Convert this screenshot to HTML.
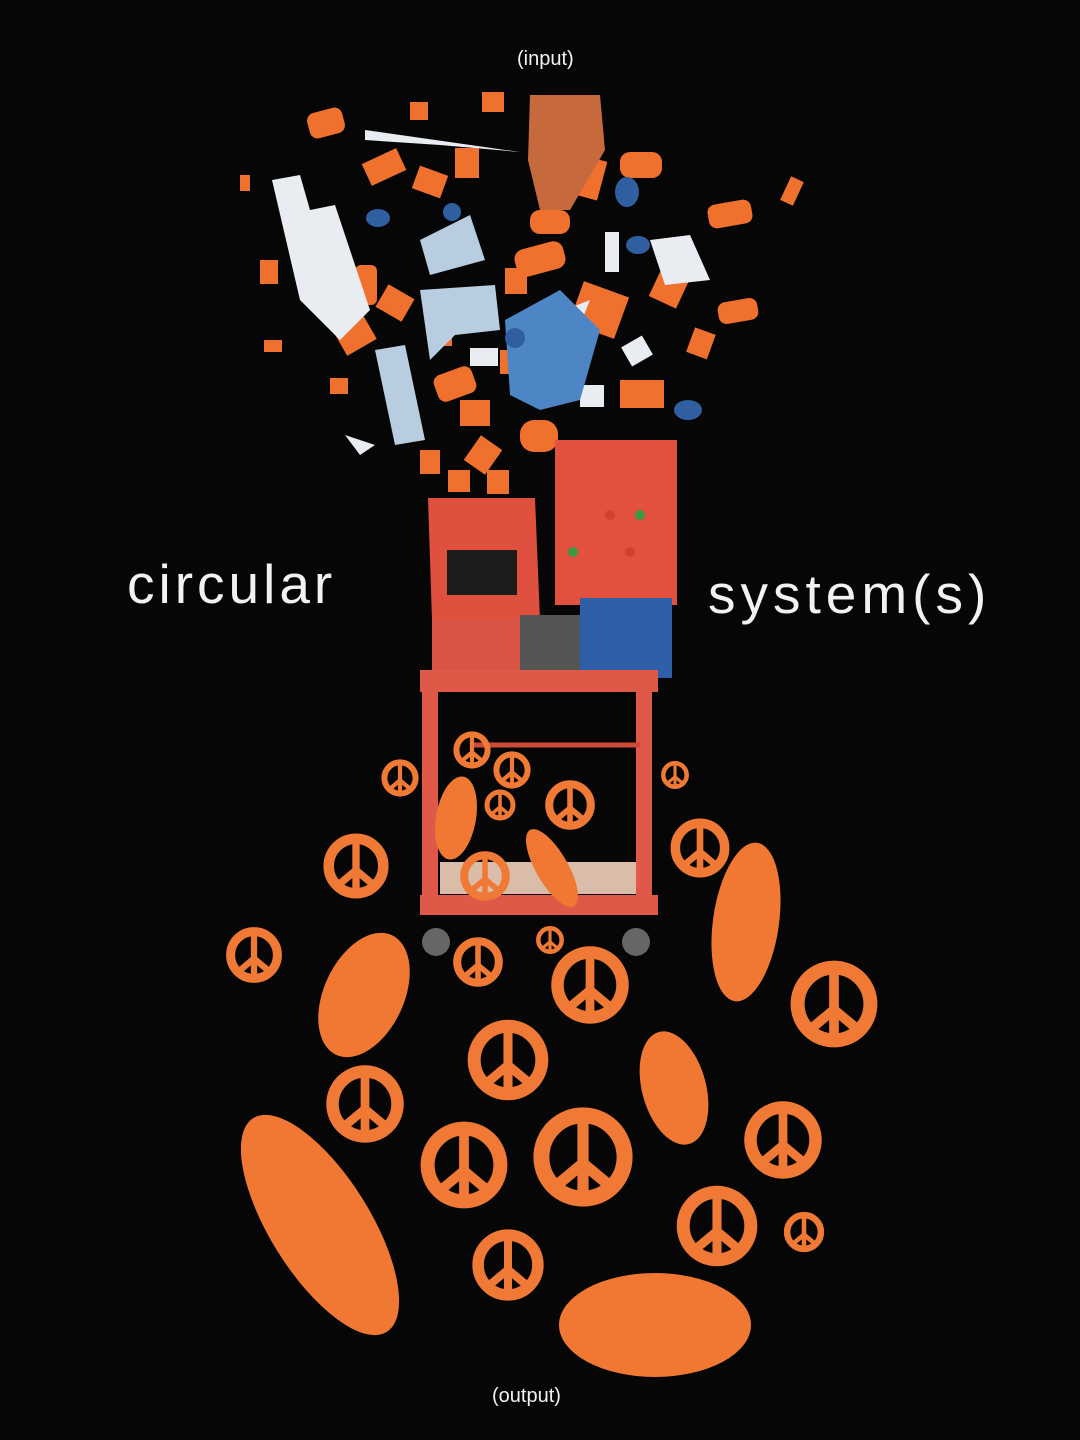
<!DOCTYPE html>
<html><head><meta charset="utf-8"><style>
html,body{margin:0;padding:0;background:#060606;}
body{width:1080px;height:1440px;overflow:hidden;position:relative;font-family:"Liberation Sans",sans-serif;color:#f2f2f2;}
.t{position:absolute;white-space:nowrap;}
svg{position:absolute;left:0;top:0;}
</style></head><body>
<svg width="1080" height="1440" viewBox="0 0 1080 1440">
<defs>
<g id="peace"><circle r="26" fill="none" stroke="#f07a35" stroke-width="10"/><line x1="0" y1="-26" x2="0" y2="26" stroke="#f07a35" stroke-width="7"/><line x1="0" y1="4" x2="-18" y2="19" stroke="#f07a35" stroke-width="7"/><line x1="0" y1="4" x2="18" y2="19" stroke="#f07a35" stroke-width="7"/></g>
</defs>
<g fill="#f0702e">
<rect x="308" y="110" width="36" height="26" rx="8" transform="rotate(-15 326 123)"/>
<rect x="365" y="155" width="38" height="24" transform="rotate(-25 384 167)"/>
<rect x="415" y="170" width="30" height="24" transform="rotate(20 430 182)"/>
<rect x="455" y="148" width="24" height="30"/>
<rect x="620" y="152" width="42" height="26" rx="10"/>
<rect x="708" y="202" width="44" height="24" rx="8" transform="rotate(-10 730 214)"/>
<rect x="718" y="300" width="40" height="22" rx="8" transform="rotate(-10 738 311)"/>
<rect x="655" y="268" width="30" height="36" transform="rotate(25 670 286)"/>
<rect x="575" y="288" width="48" height="44" transform="rotate(20 599 310)"/>
<rect x="530" y="210" width="40" height="24" rx="10"/>
<rect x="515" y="245" width="50" height="28" rx="10" transform="rotate(-15 540 259)"/>
<rect x="555" y="155" width="48" height="40" transform="rotate(15 579 175)"/>
<rect x="335" y="310" width="34" height="40" transform="rotate(-30 352 330)"/>
<rect x="380" y="290" width="30" height="26" transform="rotate(30 395 303)"/>
<rect x="435" y="370" width="40" height="28" rx="8" transform="rotate(-20 455 384)"/>
<rect x="460" y="400" width="30" height="26"/>
<rect x="520" y="420" width="38" height="32" rx="14"/>
<rect x="620" y="380" width="44" height="28"/>
<rect x="690" y="330" width="22" height="26" transform="rotate(20 700 343)"/>
<rect x="470" y="440" width="26" height="30" transform="rotate(35 483 455)"/>
<rect x="420" y="450" width="20" height="24"/>
<rect x="448" y="470" width="22" height="22"/>
<rect x="487" y="470" width="22" height="24"/>
<rect x="330" y="378" width="18" height="16"/>
<rect x="264" y="340" width="18" height="12"/>
<rect x="260" y="260" width="18" height="24"/>
<rect x="240" y="175" width="10" height="16"/>
<rect x="785" y="178" width="14" height="26" transform="rotate(25 792 191)"/>
<rect x="482" y="92" width="22" height="20"/>
<rect x="410" y="102" width="18" height="18"/>
<rect x="505" y="268" width="22" height="26"/>
<rect x="500" y="350" width="26" height="24"/>
<rect x="355" y="265" width="22" height="40" rx="6"/>
<rect x="430" y="320" width="22" height="26"/>
</g>
<g fill="#e9edf1">
<path d="M272 180 L300 175 L310 210 L335 205 L370 310 L340 340 L300 300 Z"/>
<path d="M365 130 L520 152 L440 145 L365 140 Z"/>
<rect x="605" y="232" width="14" height="40"/>
<rect x="470" y="348" width="28" height="18"/>
<rect x="625" y="340" width="24" height="22" transform="rotate(-30 637 351)"/>
<rect x="580" y="385" width="24" height="22"/>
<path d="M650 240 L690 235 L710 280 L665 285 Z"/>
<path d="M345 435 L375 445 L360 455 Z"/>
<path d="M565 310 L590 300 L570 350 Z"/>
</g>
<g fill="#b9cde0"><path d="M420 240 L470 215 L485 260 L430 275 Z"/><path d="M420 290 L495 285 L500 330 L455 335 L430 360 Z"/><path d="M375 350 L405 345 L425 440 L395 445 Z"/></g>
<g fill="#4e86c5"><path d="M505 320 L560 290 L600 330 L580 400 L540 410 L510 395 Z"/></g>
<g fill="#2f5fa0"><ellipse cx="378" cy="218" rx="12" ry="9"/><ellipse cx="627" cy="192" rx="12" ry="15"/><ellipse cx="638" cy="245" rx="12" ry="9"/><ellipse cx="688" cy="410" rx="14" ry="10"/><ellipse cx="452" cy="212" rx="9" ry="9"/><ellipse cx="515" cy="338" rx="10" ry="10"/></g>
<path d="M530 95 L600 95 L605 150 L570 210 L540 210 L528 160 Z" fill="#c66a3d"/>
<rect x="555" y="440" width="122" height="165" fill="#e2513e"/>
<g fill="#3a9a3f"><circle cx="573" cy="552" r="5"/><circle cx="640" cy="515" r="5"/></g>
<g fill="#d14030"><circle cx="610" cy="515" r="5"/><circle cx="630" cy="552" r="5"/></g>
<path d="M428 498 L535 498 L540 620 L432 620 Z" fill="#e0503e"/>
<rect x="447" y="550" width="70" height="45" fill="#1c1c1c"/>
<rect x="432" y="620" width="90" height="55" fill="#d85444"/>
<rect x="520" y="615" width="60" height="60" fill="#555"/>
<rect x="580" y="598" width="92" height="80" fill="#2f5fa8"/>
<rect x="420" y="670" width="238" height="22" fill="#e05847"/>
<rect x="422" y="690" width="16" height="225" fill="#e05847"/>
<rect x="636" y="690" width="16" height="225" fill="#e05847"/>
<rect x="440" y="862" width="196" height="32" fill="#d9bda8"/>
<rect x="420" y="895" width="238" height="20" fill="#e05847"/>
<line x1="470" y1="745" x2="640" y2="745" stroke="#d04a3a" stroke-width="5"/>
<circle cx="436" cy="942" r="14" fill="#666"/><circle cx="636" cy="942" r="14" fill="#666"/>
<g>
<use href="#peace" transform="translate(400 778) scale(0.6)"/>
<use href="#peace" transform="translate(472 750) scale(0.6)"/>
<use href="#peace" transform="translate(512 770) scale(0.6)"/>
<use href="#peace" transform="translate(500 805) scale(0.5)"/>
<use href="#peace" transform="translate(570 805) scale(0.8)"/>
<use href="#peace" transform="translate(675 775) scale(0.45)"/>
<use href="#peace" transform="translate(356 866) scale(1.05)"/>
<use href="#peace" transform="translate(700 848) scale(0.95)"/>
<use href="#peace" transform="translate(485 876) scale(0.8)"/>
<use href="#peace" transform="translate(254 955) scale(0.9)"/>
<use href="#peace" transform="translate(478 962) scale(0.8)"/>
<use href="#peace" transform="translate(550 940) scale(0.45)"/>
<use href="#peace" transform="translate(590 985) scale(1.25)"/>
<use href="#peace" transform="translate(834 1004) scale(1.4)"/>
<use href="#peace" transform="translate(508 1060) scale(1.3)"/>
<use href="#peace" transform="translate(365 1104) scale(1.25)"/>
<use href="#peace" transform="translate(464 1165) scale(1.4)"/>
<use href="#peace" transform="translate(583 1157) scale(1.6)"/>
<use href="#peace" transform="translate(783 1140) scale(1.25)"/>
<use href="#peace" transform="translate(717 1226) scale(1.3)"/>
<use href="#peace" transform="translate(804 1232) scale(0.65)"/>
<use href="#peace" transform="translate(508 1265) scale(1.15)"/>
</g>
<g fill="#f07833">
<ellipse cx="456" cy="818" rx="20" ry="42" transform="rotate(10 456 818)"/>
<ellipse cx="552" cy="868" rx="16" ry="44" transform="rotate(-30 552 868)"/>
<ellipse cx="746" cy="922" rx="33" ry="80" transform="rotate(8 746 922)"/>
<ellipse cx="364" cy="995" rx="40" ry="66" transform="rotate(25 364 995)"/>
<ellipse cx="674" cy="1088" rx="32" ry="58" transform="rotate(-15 674 1088)"/>
<ellipse cx="320" cy="1225" rx="50" ry="126" transform="rotate(-32 320 1225)"/>
<ellipse cx="655" cy="1325" rx="96" ry="52"/>
</g>
</svg>
<div class="t" style="left:517px;top:48px;font-size:20px;">(input)</div>
<div class="t" style="left:127px;top:552px;font-size:55px;letter-spacing:4px;">circular</div>
<div class="t" style="left:708px;top:562px;font-size:55px;letter-spacing:5px;">system(s)</div>
<div class="t" style="left:492px;top:1385px;font-size:20px;">(output)</div>
</body></html>
